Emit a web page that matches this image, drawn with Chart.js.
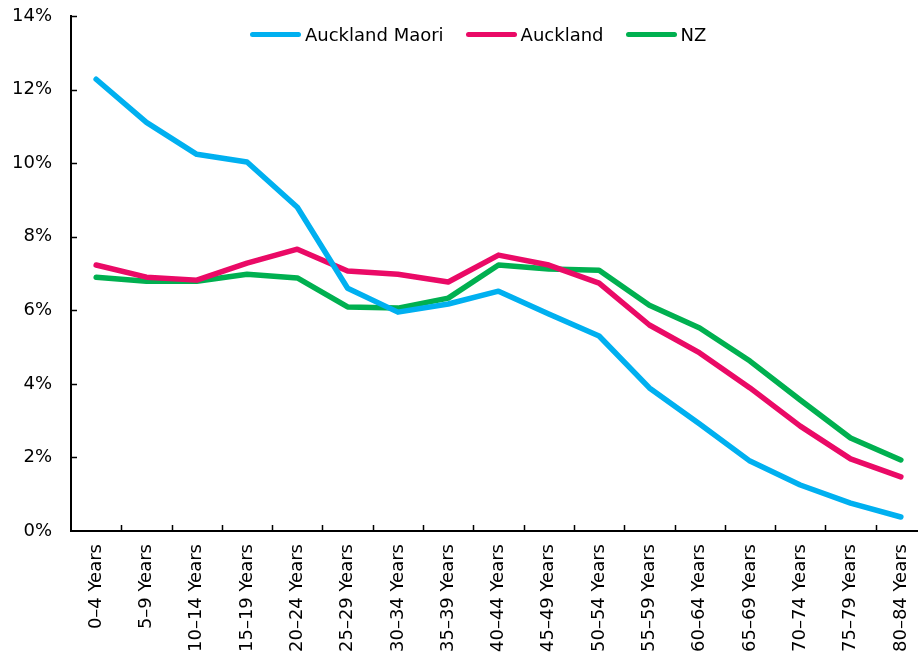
<!DOCTYPE html>
<html>
<head>
<meta charset="utf-8">
<script src="https://cdn.jsdelivr.net/npm/chart.js@4.4.1/dist/chart.umd.min.js"></script>
<style>
  html, body { margin: 0; padding: 0; background: #fff; overflow: hidden; }
  #wrap { width: 918px; height: 655px; position: relative; overflow: hidden; }
  #box { width: 930px; height: 655px; position: absolute; left: 0; top: 0; }
  #legend {
    position: absolute; left: 250px; top: 24px;
    display: flex; align-items: center;
    font-family: "DejaVu Sans", Verdana, sans-serif; font-size: 18px; color: #000;
  }
  .item { display: flex; align-items: center; margin-right: 22px; }
  .swatch { width: 51px; height: 5px; border-radius: 3px; margin-right: 4px; }
</style>
</head>
<body>
<div id="wrap">
  <div id="box"><canvas id="chart"></canvas></div>
  <div id="legend"></div>
</div>
<script>
const ageGroups = [
  "0–4 Years", "5–9 Years", "10–14 Years", "15–19 Years", "20–24 Years",
  "25–29 Years", "30–34 Years", "35–39 Years", "40–44 Years", "45–49 Years",
  "50–54 Years", "55–59 Years", "60–64 Years", "65–69 Years", "70–74 Years",
  "75–79 Years", "80–84 Years",
];

const aucklandMaori = [12.28, 11.11, 10.24, 10.03, 8.8, 6.6, 5.95, 6.17, 6.52, 5.9, 5.3, 3.89, 2.91, 1.9, 1.25, 0.76, 0.38];
const auckland = [7.23, 6.9, 6.82, 7.28, 7.66, 7.07, 6.98, 6.77, 7.5, 7.23, 6.74, 5.6, 4.84, 3.89, 2.85, 1.96, 1.47];
const nz = [6.9, 6.79, 6.79, 6.98, 6.88, 6.09, 6.06, 6.33, 7.23, 7.12, 7.09, 6.14, 5.52, 4.62, 3.56, 2.53, 1.93];

const seriesNames = ["Auckland Maori", "Auckland", "NZ"];
const seriesColors = ["#00b0f0", "#ea0a66", "#00b050"];

const font = { family: "'DejaVu Sans', Verdana, sans-serif", size: 18 };

// legend as plain html, sits inside the plot at the top
document.querySelector("#legend").innerHTML = seriesNames
  .map(
    (name, i) => `
      <div class="item">
        <span class="swatch" style="background:${seriesColors[i]}"></span>
        <span>${name}</span>
      </div>
    `,
  )
  .join("");

// both axes have short ticks pointing into the plot
const innerTicks = {
  id: "innerTicks",
  afterDatasetsDraw(chart) {
    const { x, y } = chart.scales;
    const { left, bottom } = chart.chartArea;
    const ctx = chart.ctx;
    ctx.save();
    ctx.strokeStyle = "#000";
    ctx.lineWidth = 1.5;
    ctx.beginPath();
    for (let i = 1; i < ageGroups.length; i++) {
      const px = Math.round((x.getPixelForTick(i) + x.getPixelForTick(i - 1)) / 2) + 0.5;
      ctx.moveTo(px, bottom);
      ctx.lineTo(px, bottom - 6);
    }
    y.ticks.forEach((t, i) => {
      if (t.value === 0) return;
      const py = Math.round(y.getPixelForTick(i)) + 0.5;
      ctx.moveTo(left, py);
      ctx.lineTo(left + 6, py);
    });
    ctx.stroke();
    ctx.restore();
  },
};

new Chart(document.querySelector("#chart"), {
  type: "line",
  data: {
    labels: ageGroups,
    datasets: [aucklandMaori, auckland, nz].map((data, i) => ({
      label: seriesNames[i],
      data,
      borderColor: seriesColors[i],
      backgroundColor: seriesColors[i],
      borderWidth: 5.5,
      borderJoinStyle: "round",
      borderCapStyle: "round",
      pointRadius: 0,
      tension: 0,
    })),
  },
  plugins: [innerTicks],
  options: {
    responsive: true,
    maintainAspectRatio: false,
    animation: false,
    layout: { padding: { top: 16, left: 0, right: 4, bottom: 0 } },
    plugins: {
      legend: { display: false },
      tooltip: { enabled: false },
    },
    scales: {
      x: {
        offset: true,
        grid: { display: false },
        border: { display: true, color: "#000", width: 2 },
        ticks: {
          color: "#000",
          font,
          minRotation: 90,
          maxRotation: 90,
          padding: 5,
          autoSkip: false,
        },
        afterFit: (scale) => { scale.height = 124; },
      },
      y: {
        min: 0,
        max: 14,
        grid: { display: false },
        border: { display: true, color: "#000", width: 2 },
        ticks: {
          stepSize: 2,
          color: "#000",
          font,
          padding: 11,
          callback: (value) => `${value}%`,
        },
        afterFit: (scale) => {
          scale.width = 71;
          scale.paddingTop = 0;
          scale.paddingBottom = 0;
        },
      },
    },
  },
});
</script>
</body>
</html>
